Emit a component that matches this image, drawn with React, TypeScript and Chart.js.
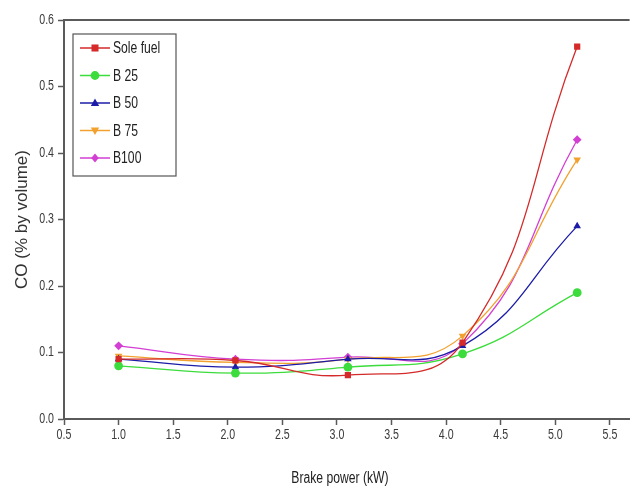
import React, { useEffect, useRef } from "react";
import { Chart, registerables } from "chart.js";

Chart.register(...registerables);

const brakePower = [1.0, 2.07, 3.1, 4.15, 5.2];
const soleFuel = [0.09, 0.088, 0.066, 0.115, 0.56];
const b25 = [0.08, 0.069, 0.078, 0.098, 0.19];
const b50 = [0.09, 0.078, 0.09, 0.11, 0.29];
const b75 = [0.095, 0.085, 0.09, 0.125, 0.39];
const b100 = [0.11, 0.09, 0.093, 0.113, 0.42];

const seriesNames = ["Sole fuel", "B 25", "B 50", "B 75", "B100"];
const seriesColors = ["#d42a2a", "#3bdc3b", "#1c1ca8", "#f2a12e", "#d33ed3"];
const seriesStyles = ["rect", "circle", "triangle", "triangle", "rectRot"];
const seriesRotation = [0, 0, 0, 180, 0];
const seriesValues = [soleFuel, b25, b50, b75, b100];

const yTitle = "CO (% by volume)";
const xTitle = "Brake power (kW)";

const SANS = "'Liberation Sans', Arial, sans-serif";
const AXIS = "#5a5a5a";
const SQUEEZE = 0.76;

function narrowText(ctx: CanvasRenderingContext2D, text: string, x: number, y: number, size: number, align: CanvasTextAlign, color: string) {
  ctx.save();
  ctx.font = size + "px " + SANS;
  ctx.fillStyle = color;
  ctx.textBaseline = "middle";
  ctx.textAlign = align;
  ctx.translate(x, y);
  ctx.scale(SQUEEZE, 1);
  ctx.fillText(text, 0, 0);
  ctx.restore();
}

function drawMarker(ctx: CanvasRenderingContext2D, style: string, rot: number, x: number, y: number, r: number, color: string) {
  ctx.save();
  ctx.fillStyle = color;
  ctx.beginPath();
  if (style === "rect") {
    ctx.rect(x - r * 0.8, y - r * 0.8, r * 1.6, r * 1.6);
  } else if (style === "circle") {
    ctx.arc(x, y, r, 0, Math.PI * 2);
  } else if (style === "triangle") {
    const s = rot === 180 ? -1 : 1;
    ctx.moveTo(x, y - s * r);
    ctx.lineTo(x + r * 0.95, y + s * r * 0.7);
    ctx.lineTo(x - r * 0.95, y + s * r * 0.7);
    ctx.closePath();
  } else {
    ctx.moveTo(x, y - r);
    ctx.lineTo(x + r * 0.85, y);
    ctx.lineTo(x, y + r);
    ctx.lineTo(x - r * 0.85, y);
    ctx.closePath();
  }
  ctx.fill();
  ctx.restore();
}

const framePlugin = {
  id: "frameAndLegend",
  afterDraw(chart: any) {
    const ctx: CanvasRenderingContext2D = chart.ctx;
    const a = chart.chartArea;
    ctx.save();
    ctx.strokeStyle = AXIS;
    ctx.lineWidth = 2;
    ctx.beginPath();
    ctx.moveTo(a.left, a.top);
    ctx.lineTo(a.right, a.top);
    ctx.stroke();

    // tick labels
    const xs = chart.scales.x;
    const ys = chart.scales.y;
    for (const t of xs.ticks) {
      narrowText(ctx, Number(t.value).toFixed(1), xs.getPixelForValue(t.value), a.bottom + 16, 14, "center", "#3a3a3a");
    }
    for (const t of ys.ticks) {
      narrowText(ctx, Number(t.value).toFixed(1), a.left - 10, ys.getPixelForValue(t.value), 14, "right", "#3a3a3a");
    }
    narrowText(ctx, xTitle, 340, 479, 16, "center", "#222");

    // legend box
    const bx = a.left + 9;
    const by = a.top + 14;
    const bw = 103;
    const bh = 142;
    ctx.lineWidth = 1.2;
    ctx.strokeStyle = "#555";
    ctx.strokeRect(bx, by, bw, bh);
    for (let i = 0; i < seriesNames.length; i++) {
      const y = by + 14 + i * 27.5;
      ctx.strokeStyle = seriesColors[i];
      ctx.lineWidth = 1.5;
      ctx.beginPath();
      ctx.moveTo(bx + 7, y);
      ctx.lineTo(bx + 37, y);
      ctx.stroke();
      drawMarker(ctx, seriesStyles[i], seriesRotation[i], bx + 22, y, 4.4, seriesColors[i]);
      narrowText(ctx, seriesNames[i], bx + 40, y + 1, 16, "left", "#222");
    }
    ctx.restore();
  },
};

export default function App() {
  const ref = useRef<HTMLCanvasElement | null>(null);
  useEffect(() => {
    document.body.style.margin = "0";
    const canvas = ref.current;
    if (!canvas) return;
    const datasets = seriesNames.map((name, i) => ({
      label: name,
      data: brakePower.map((x, j) => ({ x, y: seriesValues[i][j] })),
      borderColor: seriesColors[i],
      backgroundColor: seriesColors[i],
      borderWidth: 1.3,
      pointStyle: seriesStyles[i] as any,
      pointRotation: seriesRotation[i],
      pointRadius: 4.4,
      pointBorderWidth: 0,
      tension: 0.45,
      fill: false,
    }));
    const chart = new Chart(canvas, {
      type: "line",
      data: { datasets },
      plugins: [framePlugin],
      options: {
        animation: false,
        responsive: false,
        maintainAspectRatio: false,
        layout: { padding: { top: 20, right: 0, left: 0, bottom: 0 } },
        plugins: { legend: { display: false }, tooltip: { enabled: false } },
        scales: {
          x: {
            type: "linear",
            min: 0.5,
            max: 5.68,
            afterFit: (s: any) => { s.height = 77; },
            ticks: {
              stepSize: 0.5,
              includeBounds: false,
              display: false,
            },
            grid: { drawOnChartArea: false, drawTicks: true, tickLength: 6, color: AXIS, tickWidth: 1.5 },
            border: { display: true, color: AXIS, width: 2 },
          },
          y: {
            type: "linear",
            min: 0,
            max: 0.6,
            afterFit: (s: any) => { s.width = 64; },
            ticks: {
              stepSize: 0.1,
              display: false,
            },
            grid: { drawOnChartArea: false, drawTicks: true, tickLength: 6, color: AXIS, tickWidth: 1.5 },
            border: { display: true, color: AXIS, width: 2 },
            title: {
              display: true,
              text: yTitle,
              color: "#333",
              font: { family: SANS, size: 17 },
              padding: { top: 12, bottom: 0 },
            },
          },
        },
      },
    });
    return () => chart.destroy();
  }, []);
  return (
    <div style={{ width: 634, height: 496, background: "#fff" }}>
      <canvas ref={ref} width={634} height={496} style={{ display: "block" }} />
    </div>
  );
}
